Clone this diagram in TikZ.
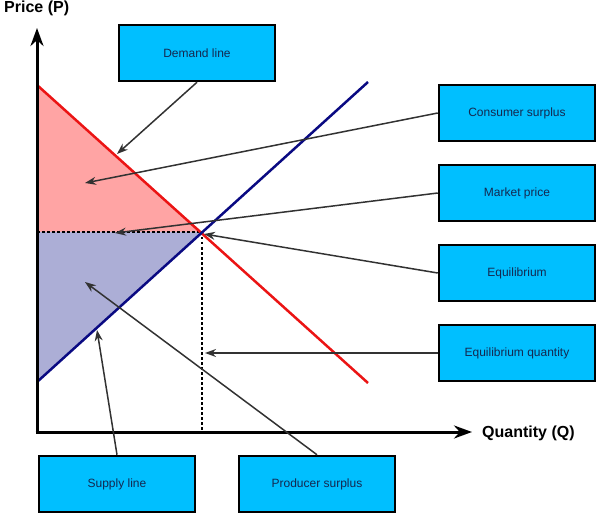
\documentclass[tikz,border=0pt]{standalone}
\usepackage{fontspec}
\setmainfont{Liberation Sans}
\usetikzlibrary{arrows.meta}
\definecolor{boxfill}{RGB}{0,191,255}
\definecolor{boxtext}{RGB}{20,40,80}
\definecolor{cspink}{RGB}{255,164,164}
\definecolor{pslav}{RGB}{172,174,214}
\definecolor{demred}{RGB}{235,20,20}
\definecolor{supblue}{RGB}{10,10,130}
\definecolor{conn}{RGB}{50,50,50}
\tikzset{
  labelbox/.style={draw=black, line width=2.5pt, fill=boxfill, minimum width=156pt, minimum height=56pt, inner sep=0pt, text=boxtext, font=\fontsize{12}{14}\selectfont},
  connector/.style={draw=conn, line width=1.5pt, -{Stealth[length=11pt,width=8pt]}},
  axisline/.style={draw=black, line width=3pt, -{Stealth[length=18pt,width=13pt]}},
  axislabel/.style={font=\fontsize{16}{18}\selectfont\bfseries, inner sep=0pt},
  dottedline/.style={draw=black, line width=2.5pt, dash pattern=on 2.5pt off 2.5pt},
}
\begin{document}
\begin{tikzpicture}[x=1pt,y=-1pt]
\useasboundingbox (0,0) rectangle (597,513);
% key points
\coordinate (O) at (37,432);
\coordinate (Ytop) at (37,28);
\coordinate (Xend) at (472,432);
\coordinate (D1) at (37,85);
\coordinate (D2) at (368,383);
\coordinate (S1) at (37,382);
\coordinate (S2) at (368,82);
\coordinate (E) at (202,232);
\coordinate (P0) at (37,232);
\coordinate (Q0) at (202,432);
% areas
\fill[cspink] (D1) -- (E) -- (P0) -- cycle;
\fill[pslav] (P0) -- (E) -- (S1) -- cycle;
% dotted guides
\draw[dottedline] (P0) -- (E);
\draw[dottedline] (E) -- (Q0);
% demand and supply
\draw[demred, line width=2.5pt] (D1) -- (D2);
\draw[supblue, line width=2.5pt] (S1) -- (S2);
% axes
\draw[axisline] (O) -- (Ytop);
\draw[axisline] ([xshift=-1.5pt]O) -- (Xend);
\node[axislabel, anchor=west] (ylab) at (4,8) {Price (P)};
\node[axislabel, anchor=west] (xlab) at (482,433) {Quantity (Q)};
% boxes
\node[labelbox] (bdemand) at (197,53) {Demand line};
\node[labelbox] (bcons) at (517,113) {Consumer surplus};
\node[labelbox] (bmarket) at (517,193) {Market price};
\node[labelbox] (bequil) at (517,273) {Equilibrium};
\node[labelbox] (bequilq) at (517,353) {Equilibrium quantity};
\node[labelbox] (bsupply) at (117,484) {Supply line};
\node[labelbox] (bprod) at (317,484) {Producer surplus};
% connector targets
\coordinate (tdemand) at (117,154);
\coordinate (tcons) at (85,183);
\coordinate (tmarket) at (115,233);
\coordinate (tequil) at (204,234);
\coordinate (tequilq) at (205,353);
\coordinate (tsupply) at (97,330);
\coordinate (tprod) at (85,282);
% connectors
\draw[connector] (bdemand.south) -- (tdemand);
\draw[connector] (bcons.west) -- (tcons);
\draw[connector] (bmarket.west) -- (tmarket);
\draw[connector] (bequil.west) -- (tequil);
\draw[connector] (bequilq.west) -- (tequilq);
\draw[connector] (bsupply.north) -- (tsupply);
\draw[connector] (bprod.north) -- (tprod);
\end{tikzpicture}
\end{document}
